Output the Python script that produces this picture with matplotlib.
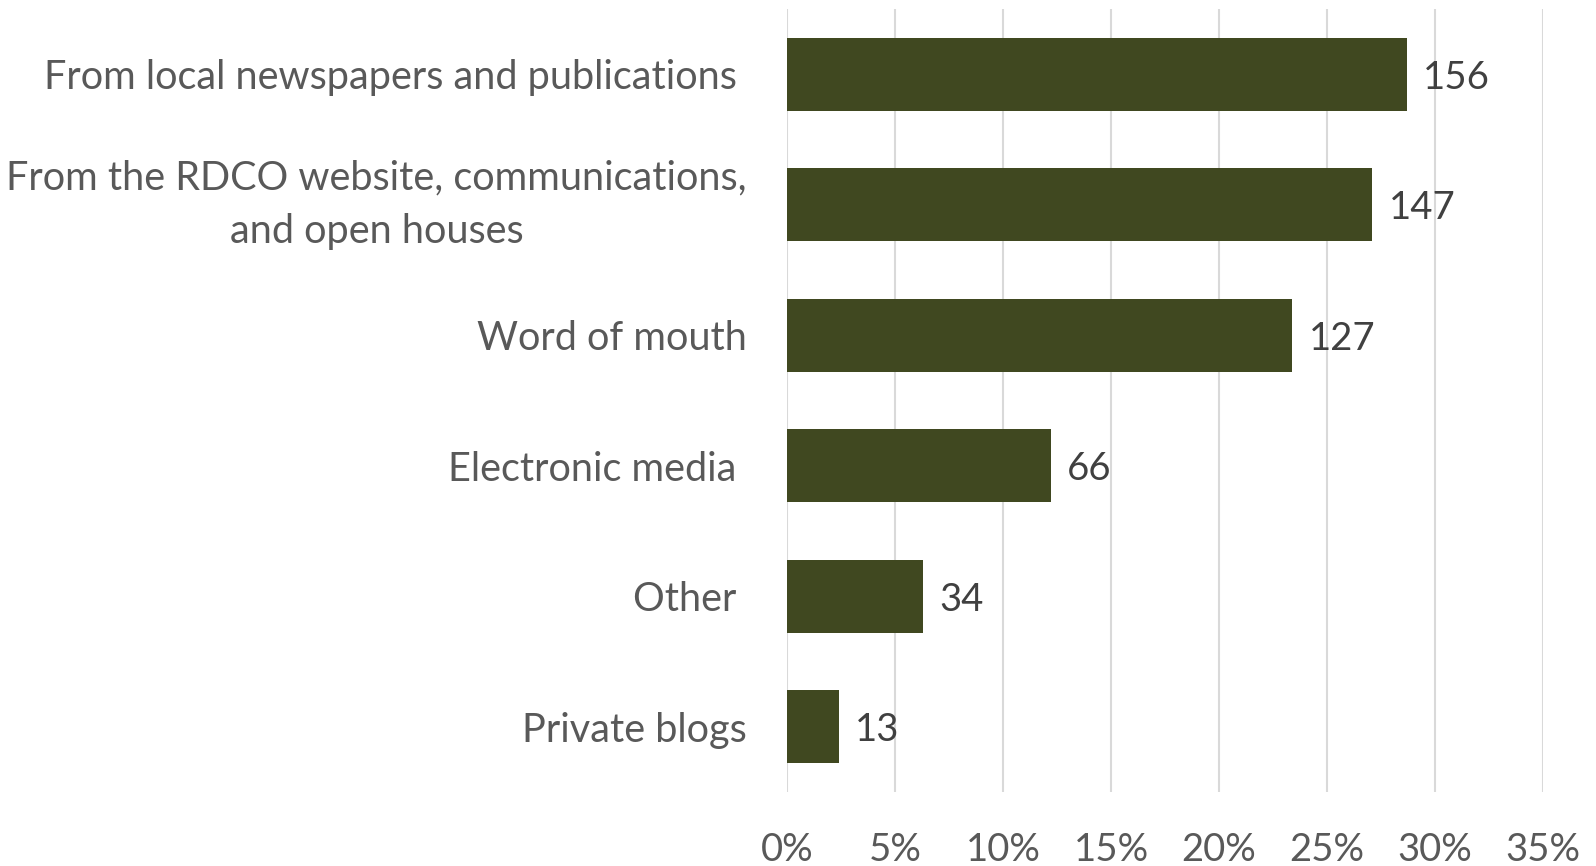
import matplotlib
matplotlib.use('Agg')
import matplotlib.pyplot as plt
from matplotlib.ticker import FuncFormatter, MultipleLocator

# data (top to bottom)
categories = [
    'From local newspapers and publications ',
    'From the RDCO website, communications,\nand open houses',
    'Word of mouth',
    'Electronic media ',
    'Other ',
    'Private blogs',
]
counts = [156, 147, 127, 66, 34, 13]
shares = [28.7, 27.1, 23.4, 12.2, 6.3, 2.4]

BAR = '#404820'
TXT = '#595959'
VAL = '#404040'
GRID = '#D9D9D9'

plt.rcParams['font.family'] = ['Lato', 'DejaVu Sans']

fig = plt.figure(figsize=(15.96, 8.66), dpi=100)
ax = fig.add_axes([0.4931, 0.0855, 0.4737, 0.9041])

ypos = list(range(len(categories)))
ax.barh(ypos, shares, height=0.56, color=BAR, zorder=3)
for y, s, c in zip(ypos, shares, counts):
    ax.text(s + 0.75, y, str(c), va='center_baseline', ha='left',
            fontsize=27.5, color=VAL)

ax.set_ylim(len(categories) - 0.5, -0.5)
ax.set_xlim(0, 35)
ax.xaxis.set_major_locator(MultipleLocator(5))
ax.xaxis.set_major_formatter(FuncFormatter(lambda v, p: f'{v:.0f}%'))
ax.set_yticks(ypos)
ax.set_yticklabels(categories, multialignment='center', linespacing=1.55)
ax.tick_params(axis='y', length=0, pad=29, labelsize=28.5, labelcolor=TXT)
ax.tick_params(axis='x', length=0, pad=29, labelsize=27.5, labelcolor=TXT)
for lbl in ax.get_yticklabels():
    if '\n' in lbl.get_text():
        lbl.set_va('center')
ax.grid(axis='x', color=GRID, lw=1.5, zorder=0)
for sp in ax.spines.values():
    sp.set_visible(False)

fig.savefig('out.png', dpi=100, facecolor='white')
